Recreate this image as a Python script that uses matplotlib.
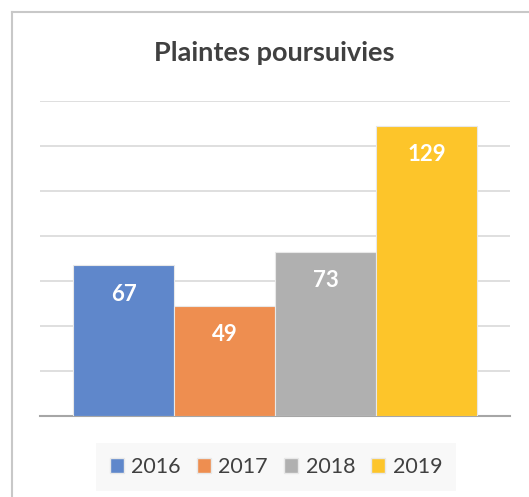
import matplotlib.pyplot as plt
from matplotlib.patches import Patch
from matplotlib.lines import Line2D

# Données
annees = ["2016", "2017", "2018", "2019"]
plaintes = [67, 49, 73, 129]
couleurs = ["#5f87cb", "#ee8e50", "#b0b0b0", "#fdc52a"]

plt.rcParams['font.family'] = ['Lato', 'DejaVu Sans']

fig = plt.figure(figsize=(5.29, 4.97), dpi=100)
ax = fig.add_axes([40 / 529, 1 - 416 / 497, 470 / 529, 315 / 497])

x = range(len(annees))
bars = ax.bar(x, plaintes, width=1.0, color=couleurs, edgecolor="#e8e8e8", linewidth=0.8, zorder=3)

for b, v in zip(bars, plaintes):
    ax.annotate(str(v), (b.get_x() + b.get_width() / 2, v), xytext=(0, -21),
                textcoords="offset points", ha="center", va="center",
                color="white", fontsize=16, fontweight="bold", zorder=4)

ax.set_ylim(0, 140)
ax.set_xlim(-0.827, 3.827)
ax.set_yticks(range(0, 141, 20))
ax.yaxis.grid(True, color="#d9d9d9", linewidth=1.2, zorder=0)
ax.set_xticks([])
ax.tick_params(left=False, labelleft=False)
for s in ["top", "right", "left"]:
    ax.spines[s].set_visible(False)
ax.spines["bottom"].set_color("#a6a6a6")
ax.spines["bottom"].set_linewidth(1.5)

fig.text(274 / 529, 1 - 53 / 497, "Plaintes poursuivies", ha="center", va="center",
         fontsize=19.5, fontweight="bold", color="#404040")

handles = [Patch(facecolor=c, edgecolor="#e8e8e8") for c in couleurs]
leg = fig.legend(handles, annees, loc="center", bbox_to_anchor=(276 / 529, 1 - 467 / 497),
                 ncol=4, frameon=True, fontsize=15.5, handlelength=0.65, handleheight=0.65,
                 handletextpad=0.35, columnspacing=0.75, borderpad=0.65)
leg.get_frame().set_facecolor("#f7f7f7")
leg.get_frame().set_edgecolor("none")
leg.get_frame().set_boxstyle("square", pad=0)
for t in leg.get_texts():
    t.set_color("#404040")

# Bordure du graphique
fig.add_artist(Line2D([11.5 / 529, 11.5 / 529], [0, 1 - 12 / 497], color="#c8c8c8", linewidth=1.5))
fig.add_artist(Line2D([11.5 / 529, 1], [1 - 12 / 497, 1 - 12 / 497], color="#c8c8c8", linewidth=1.5))

fig.savefig("out.png", dpi=100)
